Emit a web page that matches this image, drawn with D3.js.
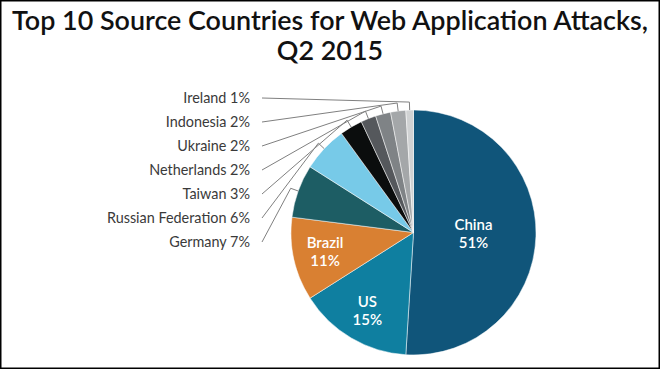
<!DOCTYPE html>
<html>
<head>
<meta charset="utf-8">
<script src="https://cdn.jsdelivr.net/npm/d3@7"></script>
<style>
  body { margin: 0; background: #fff; }
  svg { display: block; font-family: Lato, "Open Sans", sans-serif; }
</style>
</head>
<body>
<svg id="chart" width="660" height="369"></svg>
<script>
// Data
const countries = ['China', 'US', 'Brazil', 'Germany', 'Russian Federation',
    'Taiwan', 'Netherlands', 'Ukraine', 'Indonesia', 'Ireland'];
const shares = [51, 15, 11, 7, 6, 3, 2, 2, 2, 1];
const sliceColors = ['#10557a', '#0f7fa0', '#d98032', '#1d5d64', '#77cae8',
    '#0b0d0d', '#55585c', '#7f8386', '#a4a7a9', '#d0d2d3'];
const titleLines = ['Top 10 Source Countries for Web Application Attacks,', 'Q2 2015'];

const width = 660, height = 369;
const cx = 413.5, cy = 232.5, radius = 122.5;

const svg = d3.select('#chart');

// frame
svg.append('rect')
    .attr('x', 0.75).attr('y', 0.75)
    .attr('width', width - 1.5).attr('height', height - 1.5)
    .attr('fill', 'none').attr('stroke', '#000').attr('stroke-width', 1.5);

// title, sized so the first line spans roughly the frame like the original
const title = svg.append('g').selectAll('text')
    .data(titleLines)
    .join('text')
    .attr('x', width / 2)
    .attr('y', (d, i) => 30 + i * 30)
    .attr('text-anchor', 'middle')
    .attr('font-size', 24)
    .attr('font-weight', 600)
    .attr('fill', '#111')
    .text(d => d);
const firstLen = title.node().getComputedTextLength();
title.attr('font-size', 24 * 636 / firstLen);

const data = countries.map((name, i) => ({ name, value: shares[i], color: sliceColors[i] }));

const pie = d3.pie().value(d => d.value).sort(null);
const arcs = pie(data);
const arc = d3.arc().innerRadius(0).outerRadius(radius);

const g = svg.append('g').attr('transform', `translate(${cx},${cy})`);

g.selectAll('path.slice')
    .data(arcs)
    .join('path')
    .attr('class', 'slice')
    .attr('d', arc)
    .attr('fill', d => d.data.color)
    .attr('stroke', '#fff')
    .attr('stroke-width', 0.5);

// inside labels for the three big slices
const inner = arcs.slice(0, 3);
inner.forEach((d, i) => {
    const mid = (d.startAngle + d.endAngle) / 2;
    const k = i === 0 ? 0.49 : 0.74;
    const x = Math.sin(mid) * radius * k;
    const y = -Math.cos(mid) * radius * k;
    const t = g.append('text')
        .attr('text-anchor', 'middle')
        .attr('fill', '#fff')
        .attr('font-size', 15)
        .attr('font-weight', 600);
    t.append('tspan').attr('x', x).attr('y', y - 4).text(d.data.name);
    t.append('tspan').attr('x', x).attr('y', y + 14).text(d.data.value + '%');
});

// outside labels, listed top-down from Ireland to Germany
const outer = arcs.slice(3).reverse();
const labelY = d3.scalePoint()
    .domain(outer.map(d => d.data.name))
    .range([98, 242]);

const labelX = 250, lineX = 262;

outer.forEach(d => {
    const mid = (d.startAngle + d.endAngle) / 2;
    const y0 = labelY(d.data.name);
    const ex = cx + Math.sin(mid) * (radius + 8);
    const ey = cy - Math.cos(mid) * (radius + 8);
    const ax = cx + Math.sin(mid) * radius;
    const ay = cy - Math.cos(mid) * radius;

    svg.append('polyline')
        .attr('points', [[lineX, y0], [ex, ey], [ax, ay]].map(p => p.join(',')).join(' '))
        .attr('fill', 'none')
        .attr('stroke', '#808080')
        .attr('stroke-width', 1);

    svg.append('text')
        .attr('x', labelX)
        .attr('y', y0)
        .attr('dy', '0.35em')
        .attr('text-anchor', 'end')
        .attr('font-size', 14.4)
        .attr('fill', '#3a3a3a')
        .text(`${d.data.name} ${d.data.value}%`);
});
</script>
</body>
</html>
